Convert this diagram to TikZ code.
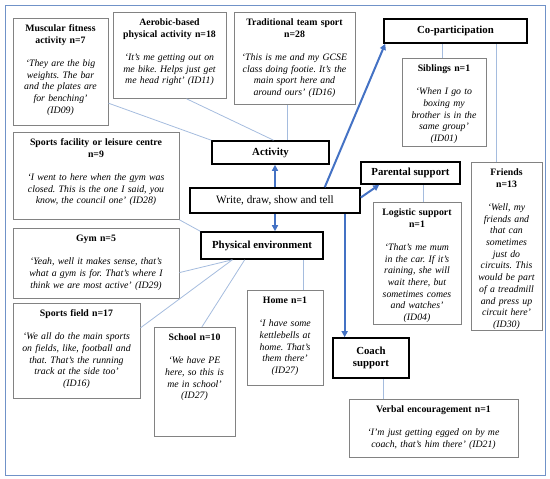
\documentclass[tikz,border=0pt]{standalone}
\usepackage{fontspec}
\setmainfont{Liberation Serif}
\usetikzlibrary{arrows.meta,calc}
\definecolor{frm}{RGB}{112,146,200}
\definecolor{lnk}{RGB}{165,188,222}
\definecolor{arblue}{RGB}{68,114,196}
\definecolor{bgr}{RGB}{130,130,130}
\frenchspacing
\newcommand{\qfont}{\fontsize{9.8}{11.7}\selectfont}
\newcommand{\qgap}{\\[11.7pt]}
\tikzset{
  qb/.style ={draw=bgr,line width=0.8pt,fill=white,align=center,inner xsep=1pt,inner ysep=0pt,text height=13pt,anchor=north,font=\qfont},
  hd/.style ={draw,line width=1.6pt,fill=white,align=center,inner sep=0pt,font=\fontsize{10.8}{12}\selectfont\bfseries},
  lk/.style ={lnk,line width=0.8pt},
  ar/.style ={arblue,line width=2pt,-{Triangle[length=6pt,width=6pt]}},
}
\begin{document}
\begin{tikzpicture}[x=1pt,y=-1pt]
  \useasboundingbox (0,0) rectangle (550,479);
  \draw[frm,line width=1pt] (5,5) rectangle (545,475);

  \node[qb,text width=93pt,text depth=94pt] (musc) at (60.5,18) {{\bfseries Muscular fitness\\activity n=7}\qgap\itshape `They are the big\\weights. The bar\\and the plates are\\for benching'\\(ID09)};
  \node[qb,text width=111pt,text depth=73pt] (aero) at (169.5,12) {{\bfseries Aerobic-based\\physical activity n=18}\qgap\itshape `It's me getting out on\\me bike. Helps just get\\me head right' (ID11)};
  \node[qb,text width=119pt,text depth=79pt] (trad) at (294.5,12) {{\bfseries Traditional team sport\\n=28}\qgap\itshape `This is me and my GCSE\\class doing footie. It's the\\main sport here and\\around ours' (ID16)};
  \node[qb,text width=82pt,text depth=75pt] (sib) at (444,58) {{\bfseries Siblings n=1}\qgap\itshape `When I go to\\boxing my\\brother is in the\\same group'\\(ID01)};
  \node[qb,text width=69pt,text depth=155pt] (fri) at (506.5,162) {{\bfseries Friends\\n=13}\qgap\itshape `Well, my\\friends and\\that can\\sometimes\\just do\\circuits. This\\would be part\\of a treadmill\\and press up\\circuit here'\\(ID30)};
  \node[qb,text width=86pt,text depth=109pt] (log) at (417,202) {{\bfseries Logistic support\\n=1}\qgap\itshape `That's me mum\\in the car. If it's\\raining, she will\\wait there, but\\sometimes comes\\and watches'\\(ID04)};
  \node[qb,text width=164pt,text depth=74pt] (fac) at (96,132) {{\bfseries Sports facility or leisure centre\\n=9}\qgap\itshape `I went to here when the gym was\\closed. This is the one I said, you\\know, the council one' (ID28)};
  \node[qb,text width=164pt,text depth=57pt] (gym) at (96,228) {{\bfseries Gym n=5}\qgap\itshape `Yeah, well it makes sense, that's\\what a gym is for. That's where I\\think we are most active' (ID29)};
  \node[qb,text width=125pt,text depth=82pt] (field) at (76.5,303) {{\bfseries Sports field n=17}\qgap\itshape `We all do the main sports\\on fields, like, football and\\that. That's the running\\track at the side too'\\(ID16)};
  \node[qb,text width=79pt,text depth=96pt] (school) at (194.5,327) {{\bfseries School n=10}\qgap\itshape `We have PE\\here, so this is\\me in school'\\(ID27)};
  \node[qb,text width=74pt,text depth=82pt] (home) at (285,290) {{\bfseries Home n=1}\qgap\itshape `I have some\\kettlebells at\\home. That's\\them there'\\(ID27)};
  \node[qb,text width=167pt,text depth=45pt] (verb) at (433.5,399) {{\bfseries Verbal encouragement n=1}\qgap\itshape `I'm just getting egged on by me\\coach, that's him there' (ID21)};

  \node[hd,minimum width=143pt,minimum height=24pt] (cop) at (455.5,31) {Co-participation};
  \node[hd,minimum width=99pt,minimum height=22pt] (par) at (410.5,173) {Parental support};
  \node[hd,minimum width=117pt,minimum height=23pt] (act) at (270.5,152.5) {Activity};
  \node[hd,minimum width=122pt,minimum height=27pt] (env) at (262,245.5) {Physical environment};
  \node[hd,minimum width=76pt,minimum height=40pt] (coach) at (371,358) {Coach\\support};
  \node[hd,minimum width=170pt,minimum height=25pt,font=\fontsize{11.2}{13}\selectfont] (wdst) at (275,200.5) {Write, draw, show and tell};

  \draw[lk] ($(musc.north east)!.79!(musc.south east)$) -- (act.north west);
  \draw[lk] ($(aero.south west)!.65!(aero.south east)$) -- ([xshift=3pt]act.north);
  \draw[lk] ([xshift=-7.5pt]trad.south) -- ([xshift=-7.5pt]trad.south |- act.north);
  \draw[lk] ([xshift=-2pt]sib.north) -- ([xshift=-2pt]sib.north |- cop.south);
  \draw[lk] ([xshift=-10.5pt]fri.north) -- ([xshift=-10.5pt]fri.north |- cop.south);
  \draw[lk] ([xshift=6pt]log.north) -- ([xshift=6pt]log.north |- par.south);
  \draw[lk] ([xshift=12pt]coach.south) -- ([xshift=12pt]coach.south |- verb.north);
  \draw[lk] (fac.south east) -- (env.north west);
  \draw[lk] ($(gym.north east)!.63!(gym.south east)$) -- ($(env.south west)!.26!(env.south east)$);
  \draw[lk] ($(field.north east)!.26!(field.south east)$) -- ($(env.south west)!.26!(env.south east)$);
  \draw[lk] ($(school.north west)!.59!(school.north east)$) -- ($(env.south west)!.36!(env.south east)$);
  \draw[lk] ([xshift=18pt]home.north) -- ([xshift=18pt]home.north |- env.south);

  \draw[ar] (wdst.north) -- (wdst.north |- act.south);
  \draw[ar] (wdst.south) -- (wdst.south |- env.north);
  \draw[ar] ($(wdst.north west)!.79!(wdst.north east)$) -- ([xshift=2pt]cop.south west);
  \draw[ar] ([yshift=3pt]wdst.east) -- ([xshift=19pt]par.south west);
  \draw[ar] ($(wdst.south west)!.906!(wdst.south east)$) coordinate (cs) -- (cs |- coach.north);
\end{tikzpicture}
\end{document}
